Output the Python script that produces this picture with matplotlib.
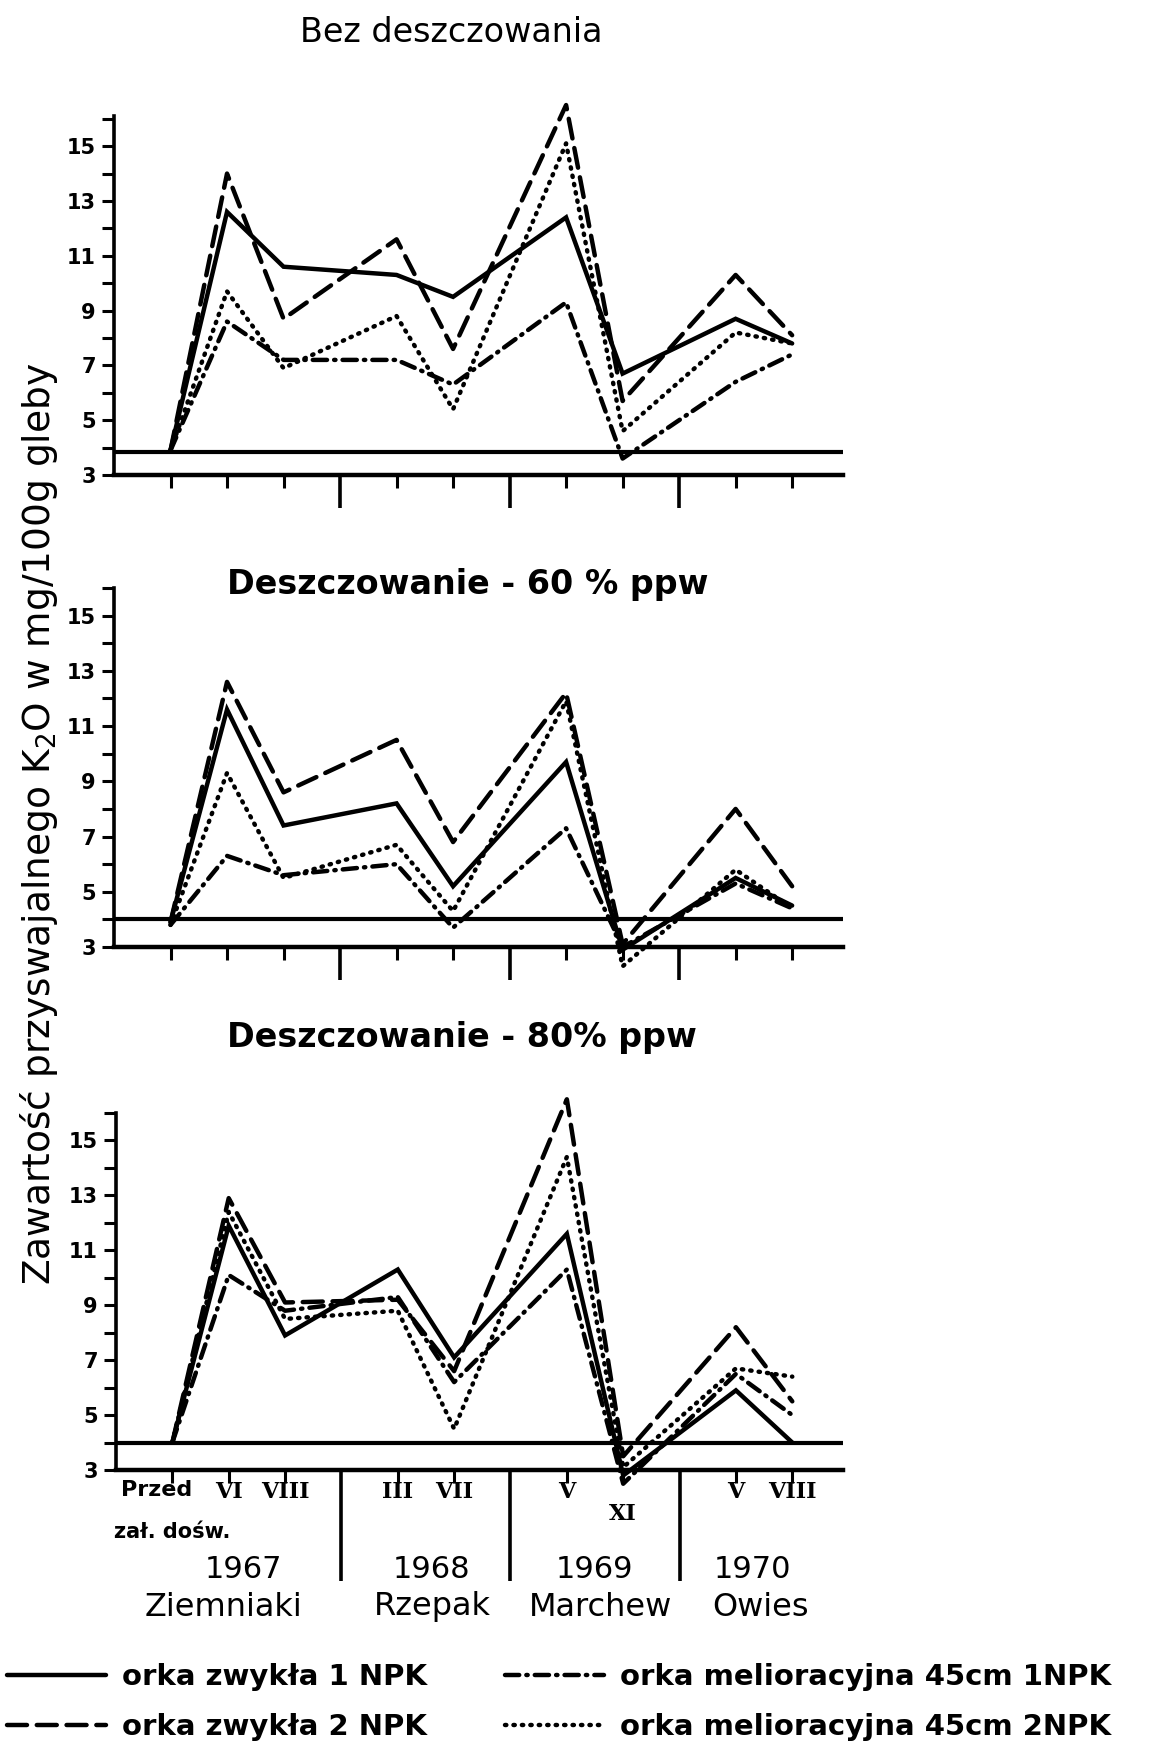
import matplotlib
matplotlib.use("Agg")
import matplotlib.pyplot as plt
from matplotlib.transforms import blended_transform_factory
import numpy as np

# ---------------- data ----------------
groups = [["Przed", "VI", "VIII"], ["III", "VII"], ["V", "XI"], ["V", "VIII"]]
years = ["1967", "1968", "1969", "1970"]
crops = ["Ziemniaki", "Rzepak", "Marchew", "Owies"]
series_names = ["orka zwykła 1 NPK", "orka zwykła 2 NPK",
                "orka melioracyjna 45cm 1NPK", "orka melioracyjna 45cm 2NPK"]
panel_titles = ["Bez deszczowania", "Deszczowanie - 60 % ppw", "Deszczowanie - 80% ppw"]
baseline = [3.85, 4.0, 4.0]

# values at: Przed, VI, VIII, III, VII, V, XI, V, VIII
p1_zw1 = [3.9, 12.6, 10.6, 10.3, 9.5, 12.4, 6.7, 8.7, 7.8]
p1_zw2 = [3.9, 14.0, 8.7, 11.6, 7.6, 16.5, 5.7, 10.3, 8.1]
p1_me1 = [3.9, 8.6, 7.2, 7.2, 6.3, 9.3, 3.6, 6.4, 7.4]
p1_me2 = [3.9, 9.7, 6.9, 8.8, 5.4, 15.1, 4.6, 8.2, 7.8]

p2_zw1 = [3.9, 11.6, 7.4, 8.2, 5.2, 9.7, 2.9, 5.5, 4.5]
p2_zw2 = [3.9, 12.6, 8.6, 10.5, 6.8, 12.2, 3.1, 8.0, 5.2]
p2_me1 = [3.8, 6.3, 5.6, 6.0, 3.7, 7.3, 3.0, 5.3, 4.4]
p2_me2 = [3.8, 9.3, 5.5, 6.7, 4.3, 11.9, 2.3, 5.8, 4.4]

p3_zw1 = [4.0, 11.9, 7.9, 10.3, 7.1, 11.6, 2.8, 5.9, 4.0]
p3_zw2 = [4.0, 12.9, 9.1, 9.2, 6.6, 16.5, 3.5, 8.2, 5.5]
p3_me1 = [4.0, 10.1, 8.8, 9.3, 6.2, 10.3, 2.5, 6.5, 5.0]
p3_me2 = [4.0, 12.4, 8.5, 8.8, 4.5, 14.4, 3.1, 6.7, 6.4]

panels = [[p1_zw1, p1_zw2, p1_me1, p1_me2],
          [p2_zw1, p2_zw2, p2_me1, p2_me2],
          [p3_zw1, p3_zw2, p3_me1, p3_me2]]

# ---------------- positions from category structure ----------------
xpos, labels, seps = [], [], []
slot = 0
for g in groups:
    for lab in g:
        xpos.append(slot)
        labels.append(lab)
        slot += 1
    seps.append(slot)
    slot += 1
seps = seps[:-1]
xpos = np.array(xpos)

W, H = 1157, 1746
fig = plt.figure(figsize=(W / 100, H / 100), dpi=100)
fig.patch.set_facecolor("white")

rects = [[114 / W, 1 - 475 / H, 729 / W, 359 / H],
         [114 / W, 1 - 947 / H, 729 / W, 359 / H],
         [116 / W, 1 - 1470 / H, 727 / W, 357 / H]]
ylims = [(3, 16.1), (3, 16), (3, 16)]

styles = [dict(linestyle="-"),
          dict(linestyle=(0, (4.5, 2.2))),
          dict(linestyle=(0, (3.2, 1.6, 0.3, 1.6))),
          dict(linestyle=(0, (0.3, 1.6)))]

handles = []
for i, (rect, vals) in enumerate(zip(rects, panels)):
    ax = fig.add_axes(rect)
    ax.set_xlim(-1.0, 11.9)
    ax.set_ylim(*ylims[i])
    for s in ["top", "right"]:
        ax.spines[s].set_visible(False)
    ax.spines["left"].set_linewidth(2.6)
    ax.spines["bottom"].set_linewidth(3.2)
    ax.axhline(baseline[i], color="black", lw=3.0, zorder=1)
    for v, st in zip(vals, styles):
        ln, = ax.plot(xpos, v, color="black", lw=3.2, clip_on=False,
                      dash_capstyle="round", solid_capstyle="round",
                      solid_joinstyle="miter", zorder=3, **st)
        if i == 2:
            handles.append(ln)
    yt = list(range(3, 17))
    ax.set_yticks(yt)
    ax.set_yticklabels([str(t) if t % 2 == 1 else "" for t in yt],
                       fontsize=15, fontweight="bold")
    ax.tick_params(axis="y", length=9, width=2.2, pad=4)
    ax.set_xticks(seps)
    ax.set_xticklabels([])
    ax.set_xticks(xpos, minor=True)
    sep_len = 80 if i == 2 else 24
    ax.tick_params(axis="x", which="major", length=sep_len, width=2.6)
    ax.tick_params(axis="x", which="minor", length=9, width=2.2)
    if i == 2:
        trans = blended_transform_factory(ax.transData, ax.transAxes)
        for x, lab in zip(xpos, labels):
            if lab == "Przed":
                ax.annotate("Przed", xy=(x, 0), xycoords=trans, xytext=(-16, -20),
                            textcoords="offset pixels", ha="center", va="center",
                            fontsize=16, fontweight="bold")
                ax.annotate("zał. dośw.", xy=(x, 0), xycoords=trans, xytext=(-58, -62),
                            textcoords="offset pixels", ha="left", va="center",
                            fontsize=15, fontweight="bold")
            else:
                dy = -44 if lab == "XI" else -22
                ax.annotate(lab, xy=(x, 0), xycoords=trans, xytext=(0, dy),
                            textcoords="offset pixels", ha="center", va="center",
                            fontsize=16, fontweight="bold", family="DejaVu Serif")

# titles
title_pos = [(451, 33), (468, 585), (462, 1038)]
for t, (x, y), wt, fs in zip(panel_titles, title_pos, ["normal", "bold", "bold"], [24, 24, 24]):
    fig.text(x / W, 1 - y / H, t, ha="center", va="center", fontsize=fs, fontweight=wt)

# years and crops
year_x = [243, 432, 594, 752]
crop_x = [223, 432, 601, 761]
for yx, yr in zip(year_x, years):
    fig.text(yx / W, 1 - 1570 / H, yr, ha="center", va="center", fontsize=22)
for cx, cr in zip(crop_x, crops):
    fig.text(cx / W, 1 - 1607 / H, cr, ha="center", va="center", fontsize=23)

# y label
fig.text(39 / W, 1 - 824 / H, "Zawartość przyswajalnego K$_2$O w mg/100g gleby",
         rotation=90, ha="center", va="center", fontsize=27)

# legend
fig.legend(handles, series_names,
           loc="upper left", bbox_to_anchor=(7 / W, 1 - 1663 / H), ncol=2,
           frameon=False, handlelength=3.4, handletextpad=0.55,
           columnspacing=2.65, labelspacing=0.75, borderpad=0.0, borderaxespad=0.0,
           prop=dict(size=21, weight="bold"))

fig.savefig("out.png", dpi=100, facecolor="white")
